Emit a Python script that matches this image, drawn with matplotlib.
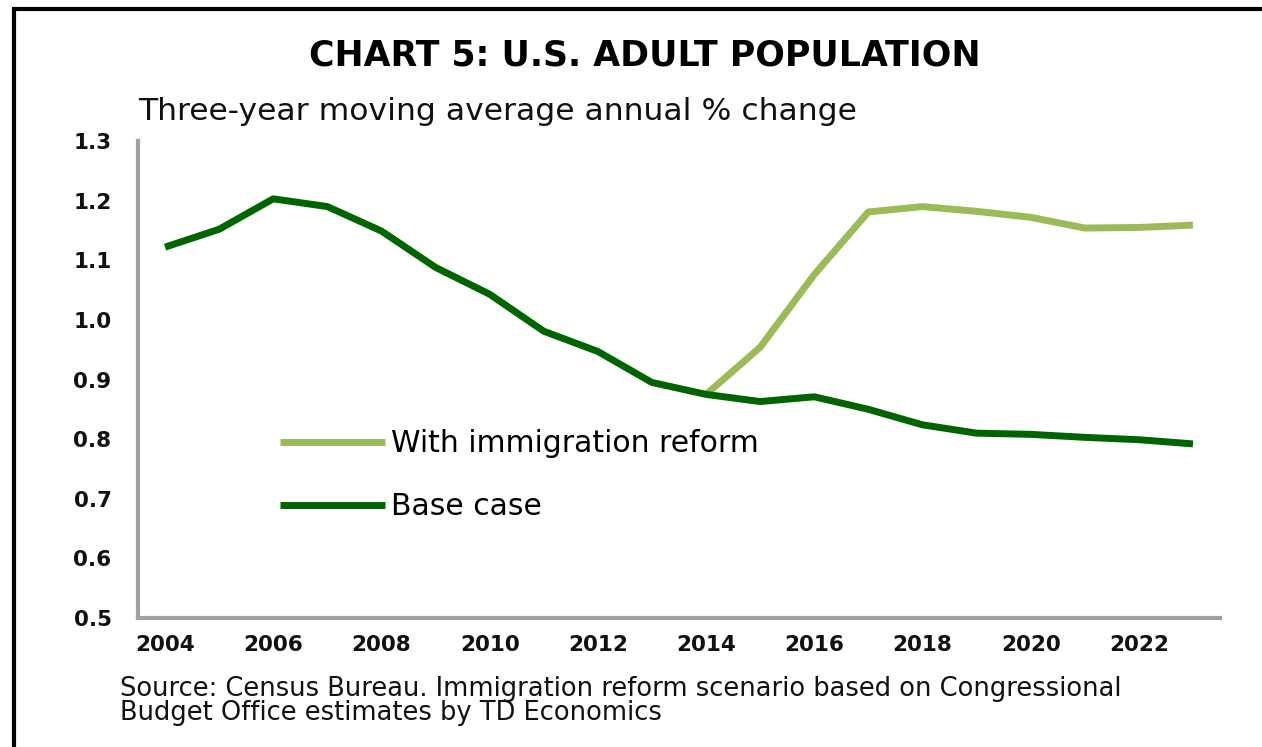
import matplotlib
matplotlib.use("Agg")
import matplotlib.pyplot as plt
from matplotlib.lines import Line2D

plt.rcParams['font.family'] = ['DejaVu Sans']

years = list(range(2004, 2024))
base_case = [1.122, 1.152, 1.203, 1.190, 1.149, 1.088, 1.043, 0.981, 0.947, 0.895,
             0.875, 0.863, 0.871, 0.850, 0.824, 0.810, 0.808, 0.803, 0.799, 0.792]
reform_years = list(range(2014, 2024))
reform = [0.875, 0.954, 1.076, 1.181, 1.190, 1.182, 1.172, 1.154, 1.155, 1.159]
xtick_years = list(range(2004, 2024, 2))
yticks = [0.5, 0.6, 0.7, 0.8, 0.9, 1.0, 1.1, 1.2, 1.3]

title = "CHART 5: U.S. ADULT POPULATION"
subtitle = "Three-year moving average annual % change"
source = ("Source: Census Bureau. Immigration reform scenario based on Congressional\n"
          "Budget Office estimates by TD Economics")

W, H = 1262, 747
fig = plt.figure(figsize=(W/100, H/100), dpi=100)
ax = fig.add_axes([138/W, 1-618/H, (1220-138)/W, (618-141)/H])

ax.plot(reform_years, reform, color='#9BBB59', lw=5, label='With immigration reform',
        solid_capstyle='butt', zorder=2)
ax.plot(years, base_case, color='#006400', lw=5, label='Base case',
        solid_capstyle='butt', zorder=3)

ax.set_xlim(2003.5, 2023.5)
ax.set_ylim(0.5, 1.3)
ax.set_xticks(xtick_years)
ax.set_xticklabels([str(y) for y in xtick_years])
ax.set_yticks(yticks)
ax.set_yticklabels([f"{v:.1f}" for v in yticks])
ax.tick_params(length=0, labelsize=15.5, colors='#111111')
ax.tick_params(axis='y', pad=19)
ax.tick_params(axis='x', pad=12)
for lbl in ax.get_xticklabels() + ax.get_yticklabels():
    lbl.set_fontweight('bold')
for s in ['top', 'right']:
    ax.spines[s].set_visible(False)
for s in ['left', 'bottom']:
    ax.spines[s].set_color('#A0A0A4')
    ax.spines[s].set_linewidth(3)

leg = ax.legend(loc='upper left', bbox_to_anchor=((280-138)/1082, (618-429)/477),
                frameon=False, fontsize=21.5, handlelength=3.5, handletextpad=0.22,
                labelspacing=1.15, borderpad=0, borderaxespad=0)

fig.text(0.511, 1-55/H, title, ha='center', va='center', fontsize=25, fontweight='bold')
fig.text(138/W, 1-112/H, subtitle, ha='left', va='center', fontsize=22.6, color='#111111')
fig.text(120/W, 1-701/H, source, ha='left', va='center', fontsize=18.5, linespacing=0.88,
         color='#111111')

fig.add_artist(Line2D([12/W, 1], [1-8.5/H, 1-8.5/H], transform=fig.transFigure,
                      color='black', lw=3, solid_capstyle='butt'))
fig.add_artist(Line2D([14/W, 14/W], [0, 1-8.5/H], transform=fig.transFigure,
                      color='black', lw=3, solid_capstyle='butt'))

fig.savefig('out.png', dpi=100)
